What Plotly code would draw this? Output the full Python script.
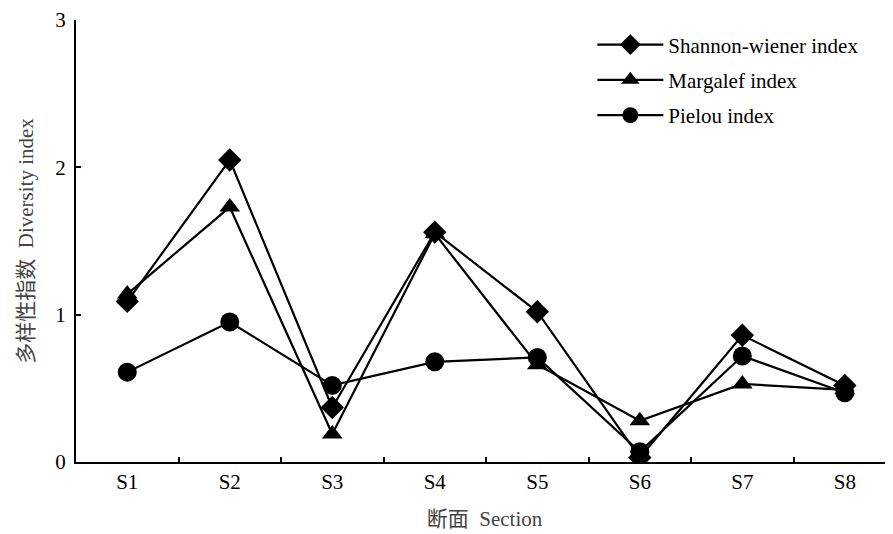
import plotly.graph_objects as go

sections = ["S1", "S2", "S3", "S4", "S5", "S6", "S7", "S8"]
shannon = [1.09, 2.05, 0.37, 1.56, 1.02, 0.03, 0.86, 0.52]
margalef = [1.14, 1.73, 0.19, 1.55, 0.66, 0.28, 0.53, 0.49]
pielou = [0.61, 0.95, 0.52, 0.68, 0.71, 0.07, 0.72, 0.47]

FONT = "Liberation Serif, Times New Roman, serif"
TFONT = "Liberation Serif, Noto Sans CJK SC, serif"

fig = go.Figure()
series = [
    ("Shannon-wiener index", shannon, "diamond", 18),
    ("Margalef index", margalef, "triangle-up", 18),
    ("Pielou index", pielou, "circle", 19),
]
for i, (name, vals, sym, sz) in enumerate(series):
    fig.add_trace(go.Scatter(
        x=sections, y=vals, name=name, mode="lines+markers",
        line=dict(color="black", width=2.2),
        marker=dict(symbol=sym, size=sz, color="black"),
        legendgroup=f"g{i}",
    ))

fig.update_layout(
    width=885, height=526,
    margin=dict(l=68, r=0, t=12, b=72),
    plot_bgcolor="white", paper_bgcolor="white",
    font=dict(family=FONT, size=21, color="black"),
    showlegend=True,
    legend=dict(x=0.632, y=0.99, xanchor="left", yanchor="top",
                bgcolor="rgba(0,0,0,0)", itemwidth=66, tracegroupgap=5,
                font=dict(family=FONT, size=21, color="black")),
    xaxis=dict(
        type="category", range=[-0.5, 7.47],
        showline=True, linecolor="black", linewidth=2,
        ticks="inside", tickson="boundaries", ticklen=5, tickwidth=1.5,
        tickcolor="black", showgrid=False, zeroline=False, automargin=False,
        title=dict(text="断面  Section", font=dict(family=TFONT, size=21, color="#444"), standoff=18),
        tickfont=dict(family=FONT, size=21),
    ),
    yaxis=dict(
        range=[0, 3], tickvals=[0, 1, 2, 3],
        showline=True, linecolor="black", linewidth=2,
        ticks="inside", ticklen=5, tickwidth=1.5, tickcolor="black",
        showgrid=False, zeroline=False, automargin=False,
        ticklabelstandoff=4,
        title=dict(text="多样性指数  Diversity index", font=dict(family=TFONT, size=21, color="#444"), standoff=16),
        tickfont=dict(family=FONT, size=21),
    ),
)

fig.write_html("out.html")
